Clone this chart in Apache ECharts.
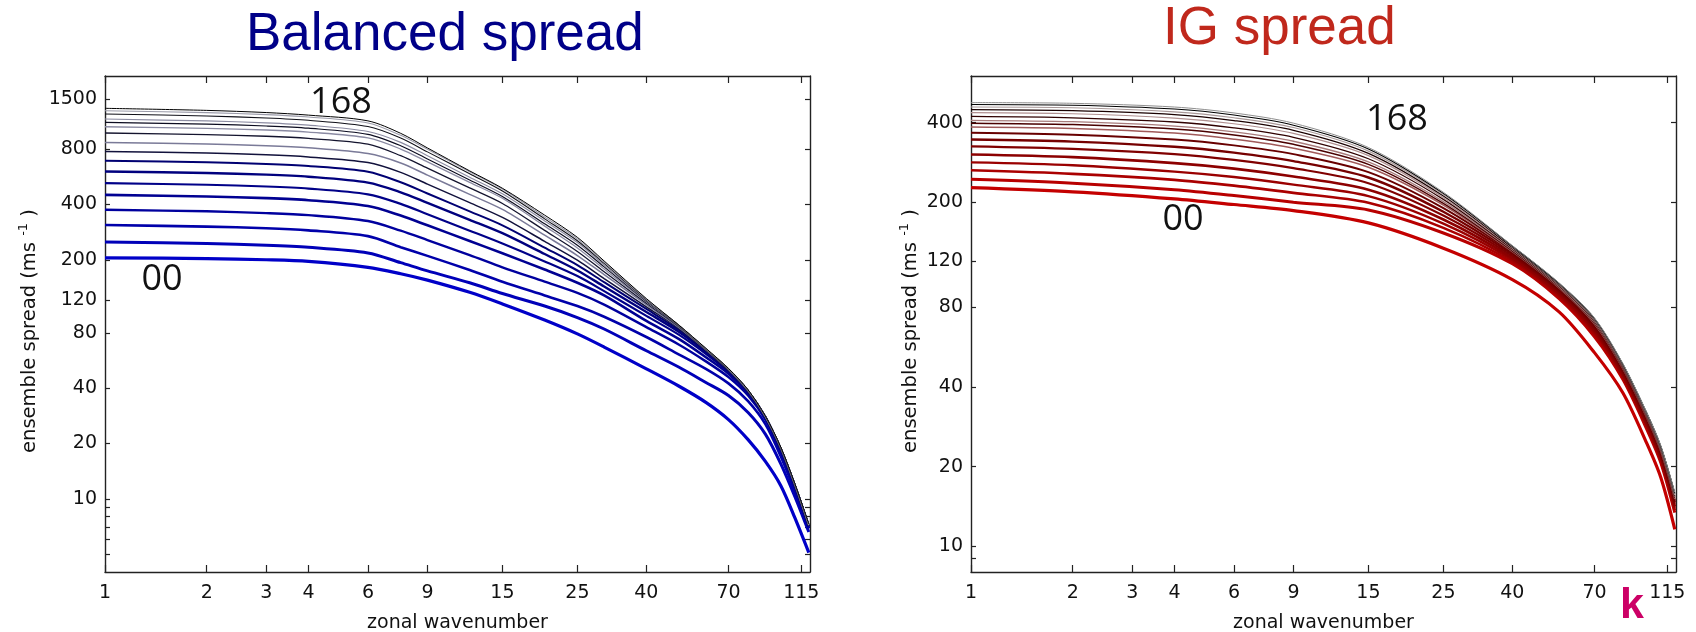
<!DOCTYPE html>
<html>
<head>
<meta charset="utf-8">
<script src="https://cdn.jsdelivr.net/npm/echarts@6.0.0/dist/echarts.min.js"></script>
<style>
  html, body { margin: 0; padding: 0; background: #ffffff; }
  #chart { width: 1696px; height: 632px; }
</style>
</head>
<body>
<div id="chart"></div>
<script>
// Zonal wavenumbers at which the spread curves are sampled
const balancedWavenumbers = [1, 2, 3, 4, 6, 7.5, 9, 12, 15, 20, 25, 30, 40, 50, 60, 70, 80, 90, 100, 110, 121];
const igWavenumbers = [1, 2, 4, 6, 9, 15, 25, 40, 55, 70, 85, 100, 110, 121];

// Balanced spread (m/s), one row per lead time, from 00 (first row) to 168 (last row)
const balancedSpread = [
  [205, 203, 200, 196, 182, 168, 155, 133, 115, 94, 79, 67, 51, 41, 33.5, 27, 21, 16, 11.8, 7.9, 5.1],
  [250, 245, 240, 234, 218, 193, 174, 150, 131, 112, 97, 84, 64, 52, 43, 36.5, 29.5, 22.5, 15.5, 10.3, 6.6],
  [309, 303, 297, 289, 269, 234, 210, 176, 152, 128, 112, 98, 76, 61, 51, 42.5, 34, 25.5, 17, 11, 6.9],
  [374, 367, 359, 350, 325, 288, 256, 212, 182, 152, 132, 114, 86, 69, 56, 46, 36.5, 27, 18, 11.5, 7.0],
  [451, 442, 433, 422, 392, 348, 308, 253, 217, 177, 150, 128, 93, 74, 59, 48, 37.5, 27.5, 18.3, 11.7, 7.05],
  [522, 512, 501, 488, 454, 403, 354, 288, 245, 196, 163, 135, 99, 78, 61.5, 49, 38, 27.8, 18.5, 11.8, 7.1],
  [605, 593, 581, 566, 526, 466, 408, 330, 279, 215, 175, 143, 104, 81, 63, 49.5, 38.3, 27.9, 18.6, 11.8, 7.1],
  [692, 678, 664, 647, 602, 528, 459, 367, 308, 233, 187, 151, 108, 83, 64, 50, 38.5, 28, 18.7, 11.9, 7.15],
  [777, 761, 746, 726, 676, 598, 516, 409, 340, 252, 199, 158, 111, 84.5, 64.5, 50.3, 38.6, 28, 18.8, 11.9, 7.15],
  [870, 853, 835, 813, 757, 673, 578, 454, 376, 272, 211, 166, 114, 85.5, 64.8, 50.5, 38.7, 28, 18.8, 11.9, 7.2],
  [979, 959, 940, 915, 852, 737, 630, 492, 405, 289, 222, 172, 116, 86.3, 64.9, 50.6, 38.8, 28, 18.9, 12, 7.2],
  [1059, 1038, 1017, 990, 921, 801, 682, 528, 432, 305, 232, 178, 118, 87, 65, 50.8, 38.9, 28, 18.9, 12, 7.2],
  [1119, 1094, 1069, 1040, 962, 835, 707, 543, 442, 314, 240, 183, 119, 87.3, 65.2, 50.8, 38.9, 28, 18.9, 12, 7.2],
  [1167, 1139, 1112, 1080, 998, 871, 736, 563, 457, 325, 248, 187, 120, 87.5, 65.3, 50.9, 38.9, 28, 19, 12, 7.2],
  [1242, 1212, 1182, 1148, 1062, 920, 773, 587, 473, 334, 254, 191, 121, 87.7, 65.5, 51, 39, 28, 19, 12, 7.2],
  [1295, 1264, 1233, 1196, 1110, 951, 798, 603, 485, 342, 260, 194, 122, 87.9, 65.7, 51, 39, 28, 19, 12, 7.2],
  [1334, 1300, 1265, 1225, 1140, 975, 812, 609, 490, 350, 265, 197, 123, 88, 66, 51.2, 39.2, 28.2, 19.1, 12.1, 7.3]
];

// IG spread (m/s), same lead-time order
const igSpread = [
  [227, 219, 206, 196, 186, 167, 134, 102, 77, 54, 38, 24.5, 18.2, 11.6],
  [244, 236, 223, 212, 200, 187, 153, 117, 86.4, 62.0, 42.7, 27.7, 20.7, 13.4],
  [264, 256, 243, 231, 217, 199, 160, 119, 87.8, 63.2, 43.4, 28.2, 21.0, 13.7],
  [283, 276, 261, 249, 233, 211, 166, 121, 89.0, 64.3, 44.0, 28.6, 21.4, 14.0],
  [303, 296, 281, 268, 250, 223, 172, 123, 90.3, 65.4, 44.6, 29.0, 21.7, 14.2],
  [325, 318, 304, 289, 269, 236, 178, 125, 91.6, 66.5, 45.3, 29.5, 22.0, 14.5],
  [345, 339, 324, 308, 286, 248, 184, 127, 92.7, 67.5, 45.9, 29.8, 22.3, 14.7],
  [366, 360, 345, 328, 304, 260, 190, 129, 93.8, 68.5, 46.4, 30.2, 22.6, 14.9],
  [385, 380, 365, 346, 320, 271, 195, 130, 94.8, 69.3, 46.9, 30.6, 22.9, 15.1],
  [398, 393, 378, 359, 331, 278, 198, 131, 95.4, 69.9, 47.2, 30.8, 23.1, 15.3],
  [408, 403, 388, 369, 340, 284, 201, 132, 95.9, 70.3, 47.5, 31.0, 23.2, 15.4],
  [422, 417, 402, 382, 352, 292, 205, 133, 96.6, 70.9, 47.8, 31.2, 23.4, 15.5],
  [436, 432, 416, 396, 364, 300, 208, 134, 97.2, 71.4, 48.1, 31.4, 23.5, 15.6],
  [448, 444, 429, 407, 374, 306, 211, 135, 97.8, 71.9, 48.4, 31.6, 23.7, 15.8],
  [458, 455, 439, 417, 383, 312, 214, 136, 98.2, 72.3, 48.6, 31.7, 23.8, 15.8],
  [468, 465, 450, 427, 391, 318, 216, 136.5, 98.6, 72.7, 48.8, 31.9, 23.9, 15.9],
  [476, 473, 458, 435, 398, 322, 218, 137, 99, 73, 49, 32, 24, 16]
];

// Tick values
const xTickValues = [1, 2, 3, 4, 6, 9, 15, 25, 40, 70, 115];
const balancedYLabels = [10, 20, 40, 80, 120, 200, 400, 800, 1500];
const balancedYTicks = [5, 6, 7, 8, 9, 10, 20, 40, 80, 120, 200, 400, 800, 1500];
const igYLabels = [10, 20, 40, 80, 120, 200, 400];
const igYTicks = [9, 10, 20, 40, 80, 120, 200, 400];

// Line styles, from the 00 curve up to the 168 curve
const balancedColors = ['#0000c8', '#0000b8', '#0000aa', '#00009e', '#000092', '#000088', '#00007e', '#000072',
  '#12123c', '#7a7a98', '#14142e', '#8a8aa2', '#0c0c20', '#8c8ca2', '#101018', '#9a9aa8', '#000000'];
const igColors = ['#c40000', '#b80000', '#aa0000', '#9a0000', '#8c0000', '#800000', '#760000', '#680000',
  '#a05a5a', '#4a0000', '#a87c7c', '#300000', '#b09090', '#1a0000', '#a89898', '#000000', '#909090'];
const lineWidths = [3.2, 3, 2.6, 2.4, 2.6, 2.2, 2.4, 2, 1.5, 1.5, 1.3, 1.3, 1.2, 1.2, 1.1, 1.1, 1];

const AXIS_COLOR = '#222';
const TICK_FONT = 'DejaVu Sans';

function plainNumber(v) { return String(Math.round(v)); }

function xAxis(gridIndex, position) {
  const bottom = position === 'bottom';
  return {
    type: 'log', logBase: 10, min: 1, max: 122, gridIndex: gridIndex, position: position,
    axisLine: { show: true, onZero: false, lineStyle: { color: AXIS_COLOR, width: 1.4 } },
    axisTick: { show: true, inside: true, length: 7, customValues: xTickValues, lineStyle: { color: AXIS_COLOR, width: 1.2 } },
    axisLabel: { show: bottom, customValues: xTickValues, formatter: plainNumber, margin: 12, fontSize: 19, color: '#111', fontFamily: TICK_FONT },
    splitLine: { show: false },
    name: bottom ? 'zonal wavenumber' : '',
    nameLocation: 'middle', nameGap: 42,
    nameTextStyle: { fontSize: 19, color: '#111', fontFamily: TICK_FONT }
  };
}

function yAxis(gridIndex, position, min, max, labels, ticks, nameGap) {
  const left = position === 'left';
  return {
    type: 'log', logBase: 10, min: min, max: max, gridIndex: gridIndex, position: position,
    axisLine: { show: true, onZero: false, lineStyle: { color: AXIS_COLOR, width: 1.4 } },
    axisTick: { show: true, inside: true, length: 5, customValues: ticks, lineStyle: { color: AXIS_COLOR, width: 1.2 } },
    axisLabel: { show: left, customValues: labels, formatter: plainNumber, margin: 8, fontSize: 19, color: '#111', fontFamily: TICK_FONT },
    splitLine: { show: false },
    name: left ? '{t|ensemble spread (ms }{s|-1}{t| )}' : '',
    nameLocation: 'middle', nameGap: nameGap, nameRotate: 90,
    nameTextStyle: {
      color: '#111', fontFamily: TICK_FONT, fontSize: 19.5,
      padding: [0, 14, 0, 0],
      rich: {
        t: { fontSize: 19.5, fontFamily: TICK_FONT, color: '#111' },
        s: { fontSize: 13, fontFamily: TICK_FONT, color: '#111', padding: [0, 0, 13, 0] }
      }
    }
  };
}

function curves(wavenumbers, table, colors, xIndex, yIndex) {
  return table.map(function (row, i) {
    return {
      type: 'line', xAxisIndex: xIndex, yAxisIndex: yIndex,
      data: wavenumbers.map(function (k, j) { return [k, row[j]]; }),
      symbol: 'none', smooth: 0.3, silent: true,
      lineStyle: { color: colors[i], width: lineWidths[i] },
      z: 2 + i
    };
  });
}

const chart = echarts.init(document.getElementById('chart'), null, { renderer: 'canvas' });

chart.setOption({
  animation: false,
  backgroundColor: '#ffffff',
  grid: [
    { left: 105, top: 76, width: 705, height: 496, outerBoundsMode: 'none' },
    { left: 971, top: 76, width: 705, height: 496, outerBoundsMode: 'none' }
  ],
  xAxis: [xAxis(0, 'bottom'), xAxis(0, 'top'), xAxis(1, 'bottom'), xAxis(1, 'top')],
  yAxis: [
    yAxis(0, 'left', 4, 2000, balancedYLabels, balancedYTicks, 62),
    yAxis(0, 'right', 4, 2000, balancedYLabels, balancedYTicks, 62),
    yAxis(1, 'left', 8, 600, igYLabels, igYTicks, 47),
    yAxis(1, 'right', 8, 600, igYLabels, igYTicks, 47)
  ],
  series: [].concat(
    curves(balancedWavenumbers, balancedSpread, balancedColors, 0, 0),
    curves(igWavenumbers, igSpread, igColors, 2, 2)
  ),
  graphic: [
    { type: 'text', x: 246, y: 35, style: { text: 'Balanced spread', fontSize: 53, fontFamily: 'Liberation Sans', fill: '#000088', align: 'left', verticalAlign: 'middle' } },
    { type: 'text', x: 1163, y: 29, style: { text: 'IG spread', fontSize: 53, fontFamily: 'Liberation Sans', fill: '#c0281c', align: 'left', verticalAlign: 'middle' } },
    { type: 'text', x: 341, y: 103, style: { text: '168', fontSize: 36, fontFamily: 'Open Sans', fill: '#111', align: 'center', verticalAlign: 'middle' } },
    { type: 'text', x: 162, y: 280, style: { text: '00', fontSize: 36, fontFamily: 'Open Sans', fill: '#111', align: 'center', verticalAlign: 'middle' } },
    { type: 'text', x: 1397, y: 120, style: { text: '168', fontSize: 36, fontFamily: 'Open Sans', fill: '#111', align: 'center', verticalAlign: 'middle' } },
    { type: 'text', x: 1183, y: 220, style: { text: '00', fontSize: 36, fontFamily: 'Open Sans', fill: '#111', align: 'center', verticalAlign: 'middle' } },
    { type: 'text', x: 1632, y: 606, style: { text: 'k', fontSize: 43, fontWeight: 'bold', fontFamily: 'Liberation Sans', fill: '#cc0066', align: 'center', verticalAlign: 'middle' } }
  ]
});
</script>
</body>
</html>
